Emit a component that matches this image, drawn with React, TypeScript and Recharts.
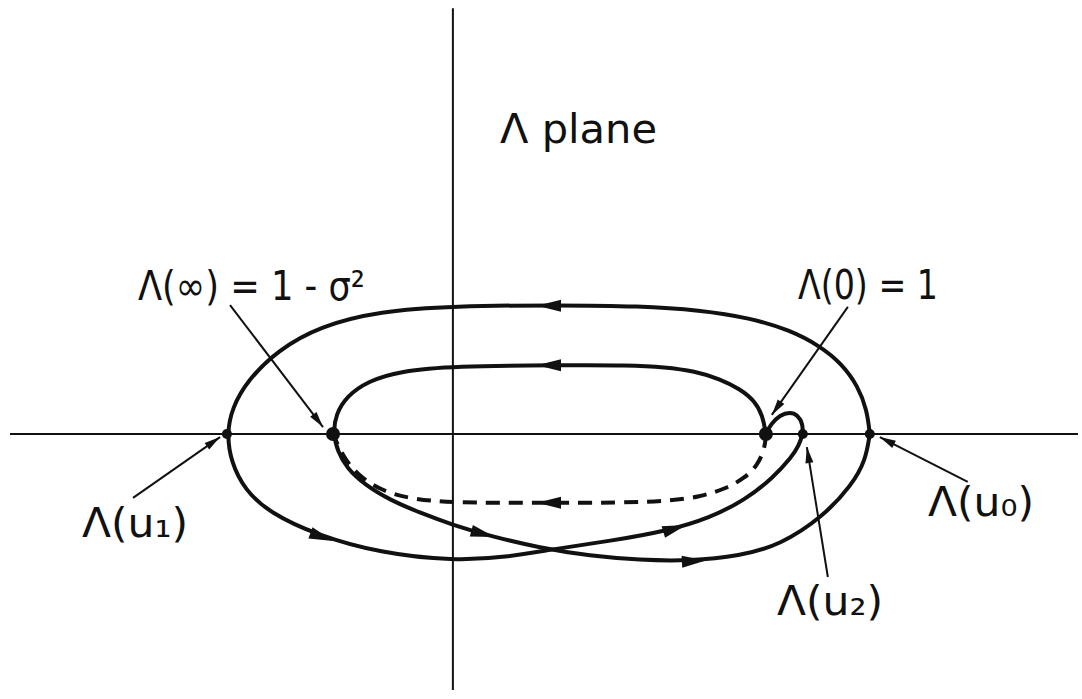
import {
  ComposedChart, Line, Scatter, XAxis, YAxis, ReferenceLine,
} from 'recharts';

const WIDTH = 1082;
const HEIGHT = 699;

// Λ-plane window, same scale on both axes (about 313 px per unit), Λ(0) sits at Re = 1
const RE_RANGE: [number, number] = [-1.447, 2.010];
const IM_RANGE: [number, number] = [-0.847, 1.387];

type Pt = [number, number];

// axis extents drawn as plain lines
const RE_AXIS: Pt = [-1.415, 1.997];
const IM_AXIS: Pt = [-0.818, 1.361];

// Λ(u₀) → over the top → Λ(u₁) → underneath → Λ(u₂) → small loop into Λ(0)
const OUTER_PATH: Pt[] = [
  [1.332, 0], [1.323, 0.077], [1.294, 0.153], [1.243, 0.224], [1.173, 0.281],
  [1.077, 0.332], [0.949, 0.371], [0.789, 0.396], [0.597, 0.409], [0.342, 0.412],
  [0, 0.409], [-0.233, 0.393], [-0.425, 0.345], [-0.559, 0.268], [-0.655, 0.173],
  [-0.706, 0.083], [-0.722, 0], [-0.709, -0.089], [-0.665, -0.179], [-0.585, -0.252],
  [-0.435, -0.323], [-0.233, -0.380], [0, -0.406], [0.182, -0.393], [0.326, -0.367],
  [0.502, -0.342], [0.684, -0.310], [0.821, -0.268], [0.933, -0.211], [1.022, -0.141],
  [1.083, -0.073], [1.105, -0.038], [1.118, 0], [1.118, 0.032], [1.102, 0.061],
  [1.077, 0.070], [1.045, 0.061], [1.016, 0.032], [1.000, 0],
];

// Λ(0) → upper arc → Λ(∞) → lower branch crossing the outer one → Λ(u₀)
const INNER_PATH: Pt[] = [
  [1.000, 0], [0.990, 0.058], [0.965, 0.105], [0.917, 0.144], [0.853, 0.176],
  [0.773, 0.201], [0.677, 0.214], [0.565, 0.220], [0.342, 0.220], [0, 0.217],
  [-0.169, 0.201], [-0.272, 0.169], [-0.339, 0.121], [-0.374, 0.064], [-0.383, 0],
  [-0.367, -0.058], [-0.339, -0.109], [-0.281, -0.163], [-0.201, -0.211], [-0.105, -0.252],
  [0, -0.291], [0.118, -0.326], [0.278, -0.364], [0.438, -0.390], [0.597, -0.403],
  [0.757, -0.406], [0.917, -0.390], [1.045, -0.355], [1.182, -0.265], [1.275, -0.163],
  [1.319, -0.083], [1.332, 0],
];

// Λ(0) → Λ(∞) along the lower side
const DASHED_PATH: Pt[] = [
  [1.000, 0], [0.997, -0.045], [0.974, -0.099], [0.933, -0.141], [0.869, -0.176],
  [0.789, -0.201], [0.693, -0.214], [0.534, -0.220], [0.278, -0.220], [0, -0.220],
  [-0.137, -0.208], [-0.233, -0.179], [-0.304, -0.131], [-0.351, -0.073], [-0.383, 0],
];

// Λ(∞), Λ(0)
const BIG_POINTS: Pt[] = [[-0.383, 0], [1.000, 0]];
// Λ(u₁), Λ(u₂), Λ(u₀)
const SMALL_POINTS: Pt[] = [[-0.722, 0], [1.118, 0], [1.332, 0]];

// flow direction along the contours: [re, im, heading°]
const FLOW_ARROWS: [number, number, number][] = [
  [0.307, 0.410, 180], [0.307, 0.220, 180], [0.307, -0.220, 180],
  [-0.419, -0.329, -20], [0.096, -0.319, -15], [0.709, -0.302, 17], [0.770, -0.406, 3],
];

const TITLE = 'Λ plane';
const POINTER_LABELS = ['Λ(∞) = 1 - σ²', 'Λ(0) = 1', 'Λ(u₁)', 'Λ(u₀)', 'Λ(u₂)'];
const POINTER_FROM: Pt[] = [
  [-0.712, 0.412], [1.262, 0.406], [-1.022, -0.204], [1.645, -0.153], [1.198, -0.457],
];
const POINTER_TO: Pt[] = [
  [-0.415, 0.022], [1.019, 0.061], [-0.744, -0.010], [1.364, -0.010], [1.131, -0.042],
];

// text placement in px: [x, baseline, width]
const TITLE_POS: [number, number, number] = [500, 143, 157];
const LABEL_POS: [number, number, number][] = [
  [138, 300, 227], [798, 299, 140], [82, 537, 106], [928, 516, 106], [777, 615, 106],
];

const INK = '#111';
const FONT = '"DejaVu Sans", sans-serif';

const toXY = (p: Pt) => ({ x: p[0], y: p[1] });

function arrowShape(len: number, half: number, anchorTip: boolean) {
  return (props: any) => {
    const { cx, cy, payload } = props;
    const a = (-payload.heading * Math.PI) / 180;
    const ux = Math.cos(a);
    const uy = Math.sin(a);
    const tx = anchorTip ? cx : cx + (ux * len) / 2;
    const ty = anchorTip ? cy : cy + (uy * len) / 2;
    const bx = tx - ux * len;
    const by = ty - uy * len;
    const pts = [
      [tx, ty],
      [bx - uy * half, by + ux * half],
      [bx + uy * half, by - ux * half],
    ];
    return <polygon points={pts.map(p => p.join(',')).join(' ')} fill={INK} />;
  };
}

const dotShape = (r: number) => (props: any) => (
  <circle cx={props.cx} cy={props.cy} r={r} fill={INK} />
);

function Label({ text, pos }: { text: string; pos: [number, number, number] }) {
  return (
    <text
      x={pos[0]}
      y={pos[1]}
      textLength={pos[2]}
      lengthAdjust="spacingAndGlyphs"
      fontFamily={FONT}
      fontSize={40}
      fill={INK}
    >
      {text}
    </text>
  );
}

export default function App() {
  const flow = FLOW_ARROWS.map(([x, y, heading]) => ({ x, y, heading }));
  const tips = POINTER_TO.map((p, i) => {
    const f = POINTER_FROM[i];
    const heading = (Math.atan2(p[1] - f[1], p[0] - f[0]) * 180) / Math.PI;
    return { x: p[0], y: p[1], heading };
  });

  return (
    <div style={{ width: WIDTH, height: HEIGHT, background: '#fff' }}>
      <style>{'body{margin:0}'}</style>
      <ComposedChart width={WIDTH} height={HEIGHT} margin={{ top: 0, right: 0, bottom: 0, left: 0 }}>
        <XAxis type="number" dataKey="x" domain={RE_RANGE} allowDataOverflow hide />
        <YAxis type="number" dataKey="y" domain={IM_RANGE} allowDataOverflow hide />

        <ReferenceLine
          segment={[{ x: RE_AXIS[0], y: 0 }, { x: RE_AXIS[1], y: 0 }]}
          stroke={INK}
          strokeWidth={2}
        />
        <ReferenceLine
          segment={[{ x: 0, y: IM_AXIS[0] }, { x: 0, y: IM_AXIS[1] }]}
          stroke={INK}
          strokeWidth={2}
        />

        <Line
          data={OUTER_PATH.map(toXY)}
          dataKey="y"
          type="basis"
          stroke={INK}
          strokeWidth={4}
          strokeLinecap="round"
          dot={false}
          activeDot={false}
          isAnimationActive={false}
        />
        <Line
          data={INNER_PATH.map(toXY)}
          dataKey="y"
          type="basis"
          stroke={INK}
          strokeWidth={4}
          strokeLinecap="round"
          dot={false}
          activeDot={false}
          isAnimationActive={false}
        />
        <Line
          data={DASHED_PATH.map(toXY)}
          dataKey="y"
          type="basis"
          stroke={INK}
          strokeWidth={4}
          strokeDasharray="14 9"
          dot={false}
          activeDot={false}
          isAnimationActive={false}
        />

        {POINTER_FROM.map((f, i) => (
          <Line
            key={POINTER_LABELS[i]}
            data={[toXY(f), toXY(POINTER_TO[i])]}
            dataKey="y"
            type="linear"
            stroke={INK}
            strokeWidth={2}
            dot={false}
            activeDot={false}
            isAnimationActive={false}
          />
        ))}

        <Scatter data={flow} dataKey="y" shape={arrowShape(24, 6, false)} isAnimationActive={false} />
        <Scatter data={tips} dataKey="y" shape={arrowShape(16, 4, true)} isAnimationActive={false} />
        <Scatter data={BIG_POINTS.map(toXY)} dataKey="y" shape={dotShape(7)} isAnimationActive={false} />
        <Scatter data={SMALL_POINTS.map(toXY)} dataKey="y" shape={dotShape(5)} isAnimationActive={false} />

        <g>
          <Label text={TITLE} pos={TITLE_POS} />
          {POINTER_LABELS.map((t, i) => (
            <Label key={t} text={t} pos={LABEL_POS[i]} />
          ))}
        </g>
      </ComposedChart>
    </div>
  );
}
